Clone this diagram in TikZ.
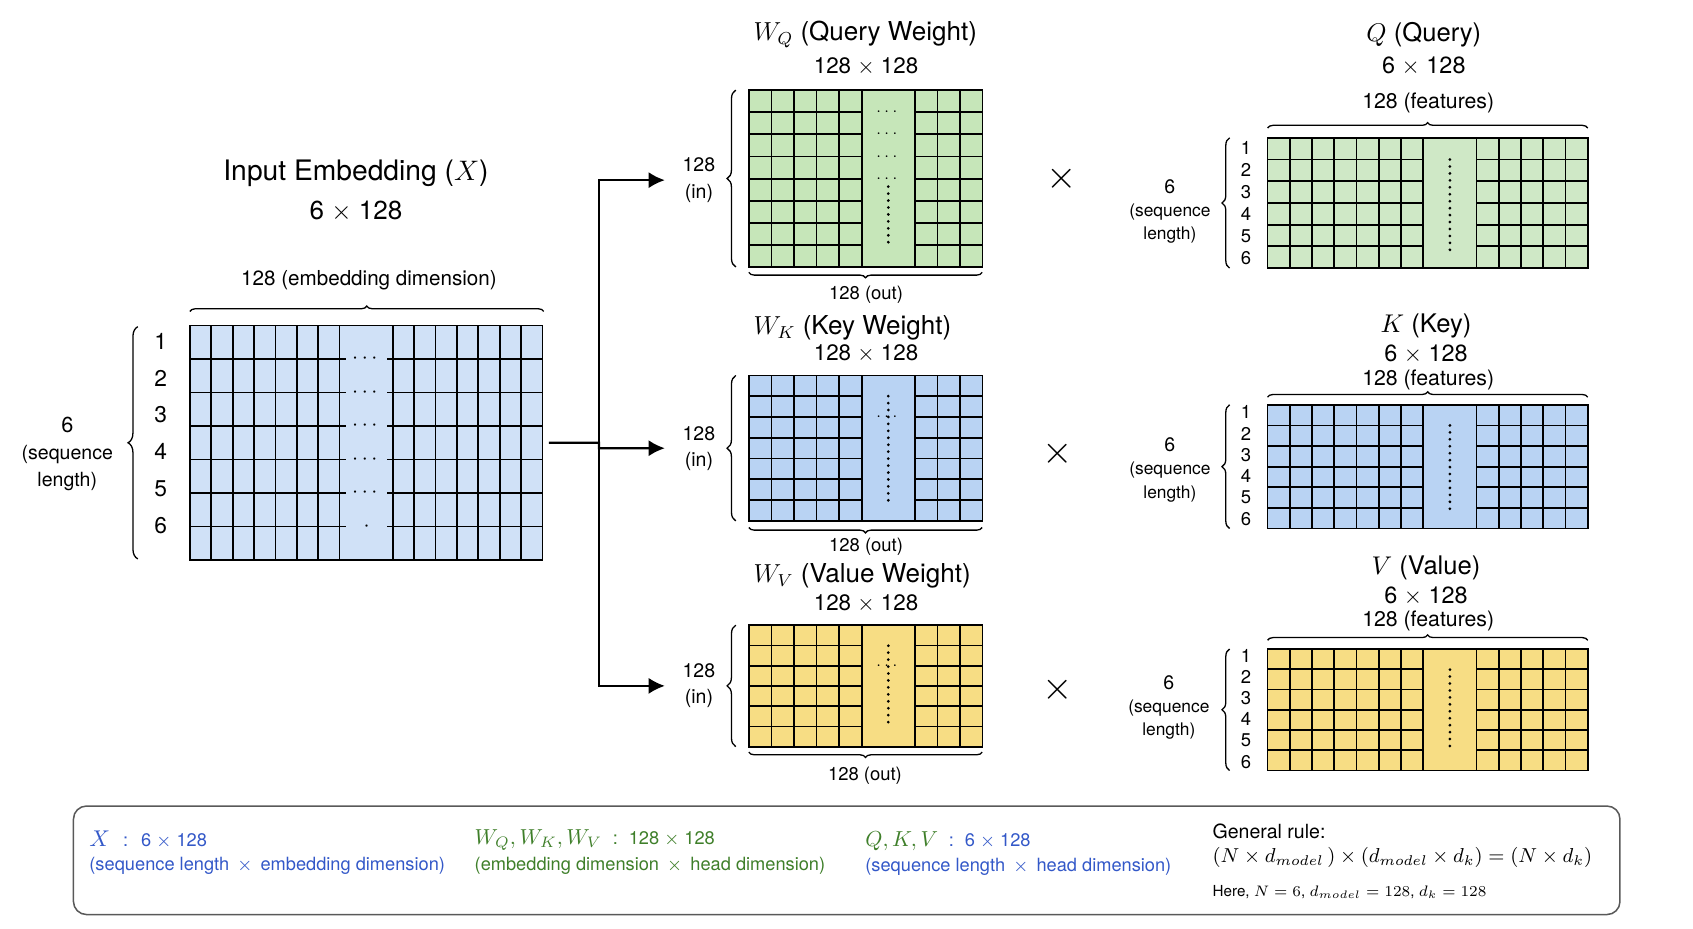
\documentclass[tikz,border=0pt]{standalone}
\usepackage{fix-cm}
\usepackage{amsmath}
\usepackage[no-math]{fontspec}
\setmainfont{TeX Gyre Heros}
\usepackage{tikz}
\usetikzlibrary{positioning}
\usetikzlibrary{arrows.meta,decorations.pathreplacing}
\definecolor{xblue}{HTML}{D0E1F7}
\definecolor{kblue}{HTML}{B9D3F3}
\definecolor{qgreen}{HTML}{CFE8C6}
\definecolor{wgreen}{HTML}{C6E6B9}
\definecolor{vyellow}{HTML}{F7DD84}
\definecolor{legblue}{HTML}{3358C8}
\definecolor{leggreen}{HTML}{3F7F2A}
\tikzset{
mat/.style = {draw, line width=0.8pt, inner sep=0pt, outer sep=0pt, anchor=north west},
gline/.style = {line width=0.8pt},
dotcol/.style = {line width=1.4pt, line cap=round, dash pattern=on 0pt off 3.2pt},
sidebrace/.style = {decorate, decoration={brace, amplitude=#1}, line width=0.6pt},
sidebrace/.default = 4pt,
flatbrace/.style = {decorate, decoration={brace, amplitude=2.5pt}, line width=0.6pt},
bigtitle/.style = {font=\fontsize{13}{15}\selectfont},
bigsize/.style = {font=\fontsize{12}{14}\selectfont},
axistxt/.style = {font=\fontsize{9.5}{11}\selectfont},
rownum/.style = {font=\fontsize{10.5}{12}\selectfont},
seqtxt/.style = {font=\fontsize{9}{12.5}\selectfont, align=center},
wtitle/.style = {font=\fontsize{12}{14}\selectfont, anchor=west, inner sep=0pt},
wsize/.style = {font=\fontsize{10.3}{12}\selectfont},
intxt/.style = {font=\fontsize{9}{12}\selectfont, align=center, inner xsep=8pt},
outtxt/.style = {font=\fontsize{8.5}{10}\selectfont},
qtitle/.style = {font=\fontsize{11.8}{14}\selectfont},
qsize/.style = {font=\fontsize{10.8}{12}\selectfont},
feattxt/.style = {font=\fontsize{9.8}{11}\selectfont},
qrownum/.style = {font=\fontsize{8.5}{10}\selectfont},
qseqtxt/.style = {font=\fontsize{8}{10.75}\selectfont, align=center},
bigdots/.style = {font=\fontsize{10}{10}\selectfont, inner sep=0pt},
smalldots/.style = {font=\fontsize{7}{7}\selectfont, inner sep=0pt},
timestxt/.style = {font=\fontsize{18}{18}\selectfont},
legendbox/.style = {draw=black!65, line width=0.7pt, rounded corners=6pt, anchor=north west, inner sep=0pt},
legtxt/.style = {font=\fontsize{8.4}{10}\selectfont, anchor=west, inner sep=0pt},
}
% one matrix: name, top left x/y, columns left/right of the gap, rows, cell width, row height, fill
\newcommand{\matgrid}[9]{%
  \node [mat, fill=#9, minimum width={((#4+#5)*#7+49)*0.5pt}, minimum height={#6*#8*0.5pt}] (#1) at (#2,#3) {};
  \foreach \c in {1,...,#4}
    \draw [gline] ({#2+\c*#7},#3) -- ({#2+\c*#7},{#3+#6*#8});
  \foreach \c in {1,...,#5}
    \draw [gline] ({#2+#4*#7+49+(\c-1)*#7},#3) -- ({#2+#4*#7+49+(\c-1)*#7},{#3+#6*#8});
  \pgfmathtruncatemacro\matrows{#6-1}
  \foreach \r in {1,...,\matrows} {
    \draw [gline] (#2,{#3+\r*#8}) -- ({#2+#4*#7},{#3+\r*#8});
    \draw [gline] ({#2+#4*#7+49},{#3+\r*#8}) -- ({#2+(#4+#5)*#7+49},{#3+\r*#8});
  }
}

\begin{document}
\begin{tikzpicture}[x=0.5pt, y=-0.5pt, >={Latex[length=7.5pt,width=7.5pt]}]
    \useasboundingbox (0,0) rectangle (1560,856);

    % input embedding
    \node [bigtitle] (titleX) at (328,160) {Input Embedding ($X$)};
    \node [bigsize] (sizeX) at (328,195) {6 $\times$ 128};
    \node [axistxt] (colsX) at (340,258) {128 (embedding dimension)};
    \draw [flatbrace] (175,287) -- (501,287);
    \matgrid{X}{175}{300}{7}{7}{7}{19.7}{30.86}{xblue}
    \foreach \r in {1,...,6} {
      \draw [gline] (312.9,{300+\r*30.86}) -- +(6,0);
      \draw [gline] (356.9,{300+\r*30.86}) -- +(6,0);
    }
    \foreach \r in {1,...,5}
      \node [bigdots] (xdots\r) at (337.9,{300+\r*30.86}) {$\cdots$};
    \node [bigdots] (xdots6) at (337.9,{300+6*30.86}) {$\cdot$};
    \foreach \n/\y in {1/315,2/349,3/382,4/416,5/450,6/484}
      \node [rownum] (xrow\n) at (148,\y) {\n};
    \draw [sidebrace=4.5pt] (127,515) -- (127,301);
    \node [seqtxt] (seqX) at (62,418) {{\fontsize{10}{12.5}\selectfont 6}\\(sequence\\length)};

    % query weight and query
    \node [wtitle] (titleWQ) at (694,32) {$W_Q$ (Query Weight)};
    \node [wsize] (sizeWQ) at (798,61) {128 $\times$ 128};
    \matgrid{WQ}{690}{83}{5}{3}{8}{20.8}{20.4}{wgreen}
    \foreach \r in {1,...,4}
      \node [smalldots] (wqdots\r) at (818.5,{83+\r*20.4}) {$\cdots$};
    \draw [dotcol] (818.5,172) -- (818.5,228);
    \draw [sidebrace] (678,246) -- (678,83);
    \node [intxt] (inQ) at (644,166) {128\\(in)};
    \draw [flatbrace] (905,251) -- (690,251);
    \node [outtxt] (outQ) at (798,272) {128 (out)};
    \node [timestxt] (timesQ) at (978,165) {$\times$};

    \node [qtitle] (titleQ) at (1312,32) {$Q$ (Query)};
    \node [qsize] (sizeQ) at (1312,61) {6 $\times$ 128};
    \node [feattxt] (featQ) at (1316,95) {128 (features)};
    \draw [flatbrace] (1168,118) -- (1463,118);
    \matgrid{Q}{1168}{127}{7}{5}{6}{20.5}{20}{qgreen}
    \draw [dotcol] (1336,147) -- (1336,232);
    \draw [sidebrace=3.5pt] (1133,247) -- (1133,127);
    \foreach \n in {1,...,6}
      \node [qrownum] (qrow\n) at (1148,{115.6+\n*20.4}) {\n};
    \node [qseqtxt] (seqQ) at (1078,195) {{\fontsize{9}{10.75}\selectfont 6}\\(sequence\\length)};

    % key weight and key
    \node [wtitle] (titleWK) at (694,302) {$W_K$ (Key Weight)};
    \node [wsize] (sizeWK) at (798,326) {128 $\times$ 128};
    \matgrid{WK}{690}{346}{5}{3}{7}{20.8}{19.14}{kblue}
    \node [smalldots] (wkdots) at (818.5,{346+2*19.14}) {$\cdots$};
    \draw [dotcol] (818.5,365) -- (818.5,462);
    \draw [sidebrace] (678,480) -- (678,346);
    \node [intxt] (inK) at (644,413) {128\\(in)};
    \draw [flatbrace] (905,486) -- (690,486);
    \node [outtxt] (outK) at (798,504) {128 (out)};
    \node [timestxt] (timesK) at (975,418) {$\times$};

    \node [qtitle] (titleK) at (1314,300) {$K$ (Key)};
    \node [qsize] (sizeK) at (1314,326) {6 $\times$ 128};
    \node [feattxt] (featK) at (1316,350) {128 (features)};
    \draw [flatbrace] (1168,366) -- (1463,366);
    \matgrid{K}{1168}{373}{7}{5}{6}{20.5}{19}{kblue}
    \draw [dotcol] (1336,392) -- (1336,472);
    \draw [sidebrace=3.5pt] (1133,487) -- (1133,373);
    \foreach \n in {1,...,6}
      \node [qrownum] (krow\n) at (1148,{360.4+\n*19.6}) {\n};
    \node [qseqtxt] (seqK) at (1078,433) {{\fontsize{9}{10.75}\selectfont 6}\\(sequence\\length)};

    % value weight and value
    \node [wtitle] (titleWV) at (694,531) {$W_V$ (Value Weight)};
    \node [wsize] (sizeWV) at (798,556) {128 $\times$ 128};
    \matgrid{WV}{690}{576}{5}{3}{6}{20.8}{18.67}{vyellow}
    \node [smalldots] (wvdots) at (818.5,{576+2*18.67}) {$\cdots$};
    \draw [dotcol] (818.5,595) -- (818.5,668);
    \draw [sidebrace] (678,688) -- (678,576);
    \node [intxt] (inV) at (644,632) {128\\(in)};
    \draw [flatbrace] (905,693) -- (690,693);
    \node [outtxt] (outV) at (797,715) {128 (out)};
    \node [timestxt] (timesV) at (975,636) {$\times$};

    \node [qtitle] (titleV) at (1314,523) {$V$ (Value)};
    \node [qsize] (sizeV) at (1314,549) {6 $\times$ 128};
    \node [feattxt] (featV) at (1316,572) {128 (features)};
    \draw [flatbrace] (1168,590) -- (1463,590);
    \matgrid{V}{1168}{598}{7}{5}{6}{20.5}{18.67}{vyellow}
    \draw [dotcol] (1336,617) -- (1336,692);
    \draw [sidebrace=3.5pt] (1133,710) -- (1133,598);
    \foreach \n in {1,...,6}
      \node [qrownum] (vrow\n) at (1148,{584.4+\n*19.6}) {\n};
    \node [qseqtxt] (seqV) at (1077,652) {{\fontsize{9}{10.75}\selectfont 6}\\(sequence\\length)};

    % X feeds the three weights
    \coordinate (split) at (552,408);
    \draw [->, line width=1pt, shorten <=3pt] (X.east) -- (split) |- (inK.west);
    \draw [->, line width=1pt] (split) |- (inQ.west);
    \draw [->, line width=1pt] (split) |- (inV.west);

    % legend
    \node [legendbox, minimum width=712.5pt, minimum height=50pt] (legend) at (67,742) {};
    \node [legtxt, text=legblue] (legX) at (82,774) {{\fontsize{10.5}{13}\selectfont$X$}\hspace{6pt}:\hspace{6pt}6 $\times$ 128};
    \node [legtxt, text=legblue] (legX2) at (82,798) {(sequence length \,$\times$\, embedding dimension)};
    \node [legtxt, text=leggreen] (legW) at (437,774) {{\fontsize{10}{13}\selectfont$W_Q,W_K,W_V$}\hspace{5pt}:\hspace{5pt}128 $\times$ 128};
    \node [legtxt, text=leggreen] (legW2) at (437,798) {(embedding dimension \,$\times$\, head dimension)};
    \node [legtxt, text=leggreen] (legQKV) at (797,775) {{\fontsize{10}{13}\selectfont$Q,K,V$}\hspace{5pt}\textcolor{legblue}{:\hspace{5pt}6 $\times$ 128}};
    \node [legtxt, text=legblue] (legQKV2) at (797,799) {(sequence length \,$\times$\, head dimension)};
    \node [legtxt, font=\fontsize{9}{11}\selectfont] (rule) at (1117,766) {General rule:};
    \node [legtxt, font=\fontsize{9.3}{12}\selectfont] (ruleeq) at (1117,790) {$(N \times d_{model}\,) \times (d_{model} \times d_k) = (N \times d_k)$};
    \node [legtxt, font=\fontsize{7}{9}\selectfont] (rulehere) at (1117,822) {Here, $N = 6$, $d_{model} = 128$, $d_k = 128$};
\end{tikzpicture}
\end{document}
